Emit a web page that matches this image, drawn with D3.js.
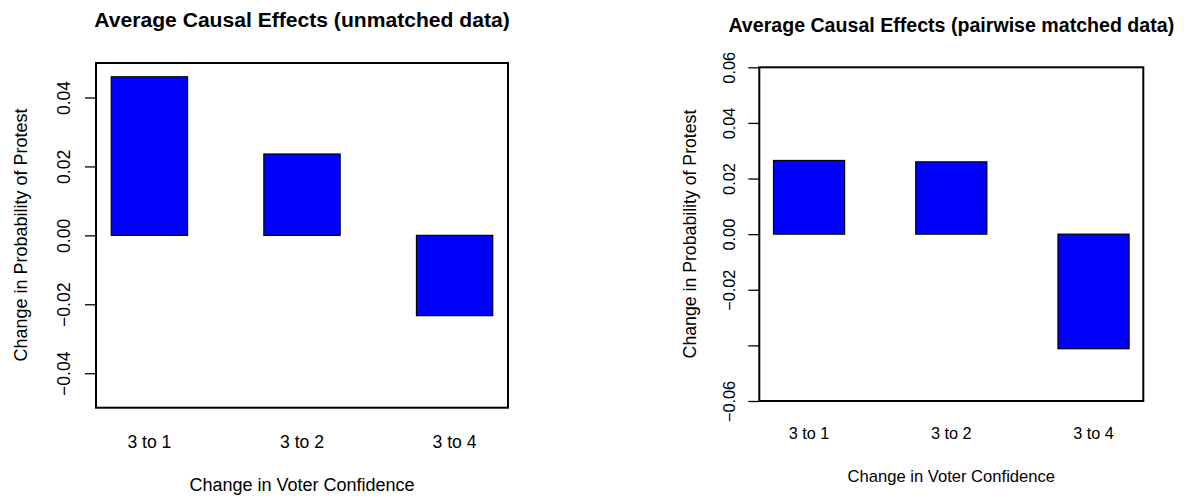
<!DOCTYPE html>
<html>
<head>
<meta charset="utf-8">
<script src="https://cdn.jsdelivr.net/npm/d3@7"></script>
<style>
  html, body { margin: 0; padding: 0; background: #fff; }
  svg { display: block; font-family: "Liberation Sans", Arial, Helvetica, sans-serif; }
</style>
</head>
<body>
<svg id="chart" width="1201" height="498"></svg>
<script>
// ---- data ----
const categories = ["3 to 1", "3 to 2", "3 to 4"];
const unmatchedValues = [0.046, 0.0236, -0.0233];
const matchedValues = [0.0265, 0.026, -0.0412];
const unmatchedTicks = [-0.04, -0.02, 0.00, 0.02, 0.04];
const matchedTicks = [-0.06, -0.04, -0.02, 0.00, 0.02, 0.04, 0.06];
const matchedHiddenTickLabels = [-0.04];
const unmatchedTitle = "Average Causal Effects (unmatched data)";
const matchedTitle = "Average Causal Effects (pairwise matched data)";
const xAxisTitle = "Change in Voter Confidence";
const yAxisTitle = "Change in Probability of Protest";

// ---- layout ----
const panels = [
  {
    title: unmatchedTitle, values: unmatchedValues, ticks: unmatchedTicks, hidden: [],
    domain: [-0.05, 0.05],
    left: 96, right: 508, top: 63, bottom: 407.7,
    fs: 17.6, tfs: 21.1, xtfs: 18, ytfs: 18,
    titleY: 26.5, tickLabelOff: 25.7, yTitleX: 26.7, yTitleY: 235, catY: 448, xTitleY: 491.3
  },
  {
    title: matchedTitle, values: matchedValues, ticks: matchedTicks, hidden: matchedHiddenTickLabels,
    domain: [-0.06, 0.06],
    left: 759.3, right: 1143.3, top: 67.3, bottom: 401,
    fs: 16.3, tfs: 19.6, xtfs: 16.6, ytfs: 17.7,
    titleY: 31.5, tickLabelOff: 24.5, yTitleX: 696, yTitleY: 234, catY: 439.1, xTitleY: 481.8
  }
];

const svg = d3.select("#chart");
const fmt = v => {
  const s = d3.format(".2f")(Math.abs(v));
  return v < 0 ? "\u2212" + s : s;
};

panels.forEach(p => {
  const g = svg.append("g");
  const x = d3.scaleBand().domain(categories).range([p.left, p.right])
    .paddingInner(0.5).paddingOuter(0.1);
  const y = d3.scaleLinear().domain(p.domain).range([p.bottom, p.top]);
  const cx = (p.left + p.right) / 2;

  // bars
  g.selectAll("rect.bar").data(p.values).join("rect")
    .attr("class", "bar")
    .attr("x", (d, i) => x(categories[i]))
    .attr("width", x.bandwidth())
    .attr("y", d => y(Math.max(0, d)))
    .attr("height", d => Math.abs(y(d) - y(0)))
    .attr("fill", "#0000ff")
    .attr("stroke", "#000")
    .attr("stroke-width", 1.2);

  // y axis
  const axis = d3.axisLeft(y).tickValues(p.ticks).tickSize(11).tickSizeOuter(0)
    .tickFormat(d => p.hidden.includes(d) ? "" : fmt(d));
  const ag = g.append("g").attr("transform", `translate(${p.left},0)`).call(axis);
  ag.select(".domain").remove();
  ag.selectAll(".tick line").attr("stroke", "#000").attr("stroke-width", 1.3);
  ag.selectAll(".tick text")
    .attr("x", null).attr("dy", null).attr("y", 0)
    .attr("text-anchor", "middle")
    .attr("transform", `translate(${-p.tickLabelOff},0) rotate(-90)`)
    .attr("font-size", p.fs)
    .attr("font-family", null)
    .attr("fill", "#000");

  // plot box
  g.append("rect")
    .attr("x", p.left).attr("y", p.top)
    .attr("width", p.right - p.left).attr("height", p.bottom - p.top)
    .attr("fill", "none").attr("stroke", "#000").attr("stroke-width", 2);

  // category labels
  g.selectAll("text.cat").data(categories).join("text")
    .attr("class", "cat")
    .attr("x", d => x(d) + x.bandwidth() / 2)
    .attr("y", p.catY)
    .attr("text-anchor", "middle")
    .attr("font-size", p.fs)
    .text(d => d);

  // axis titles
  g.append("text")
    .attr("x", cx).attr("y", p.xTitleY)
    .attr("text-anchor", "middle").attr("font-size", p.xtfs)
    .text(xAxisTitle);
  g.append("text")
    .attr("transform", `translate(${p.yTitleX},${p.yTitleY}) rotate(-90)`)
    .attr("text-anchor", "middle").attr("font-size", p.ytfs)
    .text(yAxisTitle);

  // main title
  g.append("text")
    .attr("x", cx).attr("y", p.titleY)
    .attr("text-anchor", "middle").attr("font-size", p.tfs)
    .attr("font-weight", "bold")
    .text(p.title);
});
</script>
</body>
</html>
